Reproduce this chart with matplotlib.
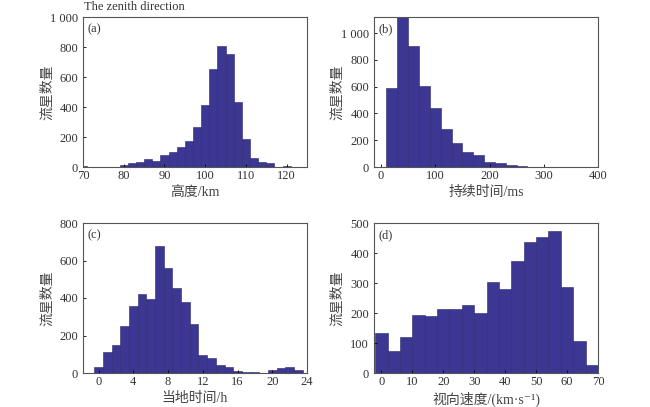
import matplotlib
matplotlib.use("Agg")
import matplotlib.pyplot as plt
from matplotlib.ticker import FuncFormatter
import numpy as np

plt.rcParams['font.family'] = ['Liberation Serif', 'Noto Sans CJK SC', 'DejaVu Serif']

# (a) meteor height, 2 km bins starting at 69 km
height_left = np.arange(69, 123, 2)
height_count = [10, 0, 0, 0, 0, 13, 27, 33, 53, 38, 82, 100, 133, 173, 264,
                415, 655, 804, 753, 433, 187, 62, 36, 24, 0, 8, 3]

# (b) duration, 20 ms bins starting at 10 ms
dur_left = np.arange(10, 310, 20)
dur_count = [592, 1200, 905, 605, 437, 285, 180, 115, 92, 35, 30, 17, 7, 3, 1]

# (c) local time, 1 h bins centred on the hour
hour_left = np.arange(-0.5, 23.5, 1)
hour_count = [32, 112, 152, 253, 355, 420, 395, 675, 559, 453, 380, 259,
              98, 80, 43, 32, 12, 4, 6, 2, 16, 28, 33, 17]

# (d) radial velocity, 4 km/s bins starting at -2
vel_left = np.arange(-2, 70, 4)
vel_count = [132, 74, 121, 195, 190, 215, 215, 227, 201, 302, 280, 372,
             436, 455, 472, 286, 106, 28]

BAR = '#3b3792'
EDGE = '#2a276e'
FS = 9


def thousands(v, pos):
    v = int(round(v))
    return f"{v // 1000} {v % 1000:03d}" if v >= 1000 else str(v)


def panel(ax, left, counts, width, xlim, xticks, ylim, yticks, xlabel, tag,
          ylab_x):
    ax.bar(left, counts, width=width, align='edge', color=BAR,
           edgecolor=EDGE, linewidth=0.4)
    ax.set_xlim(*xlim)
    ax.set_ylim(*ylim)
    ax.set_xticks(xticks)
    ax.set_yticks(yticks)
    ax.yaxis.set_major_formatter(FuncFormatter(thousands))
    ax.tick_params(direction='in', length=2.5, width=0.6, labelsize=FS,
                   labelcolor='#333333')
    ax.tick_params(axis='y', pad=3.5)
    ax.tick_params(axis='x', pad=2)
    for s in ax.spines.values():
        s.set_color('#555555')
        s.set_linewidth(0.8)
    ax.set_xlabel(xlabel, fontsize=FS + 1, color='#444444')
    ax.set_ylabel('流星数量', fontsize=FS + 1, color='#444444')
    ax.xaxis.set_label_coords(0.5, -0.128)
    ax.yaxis.set_label_coords(ylab_x, 0.5)
    ax.text(0.02, 0.955, tag, transform=ax.transAxes, fontsize=FS,
            va='top', ha='left', color='#333333')


fig = plt.figure(figsize=(6.5, 4.07), dpi=100)
W, H = 650.0, 407.0


def rect(l, r, t, b):
    return [l / W, 1 - b / H, (r - l) / W, (b - t) / H]


ax_a = fig.add_axes(rect(83, 307, 17, 167))
ax_b = fig.add_axes(rect(374, 598, 17, 167))
ax_c = fig.add_axes(rect(83, 307, 223, 373))
ax_d = fig.add_axes(rect(374, 598, 223, 373))

panel(ax_a, height_left, height_count, 2, (70, 125), range(70, 121, 10),
      (0, 1000), range(0, 1001, 200), '高度/km', '(a)', -0.128)
panel(ax_b, dur_left, dur_count, 20, (-13, 400), range(0, 401, 100),
      (0, 1120), range(0, 1001, 200), '持续时间/ms', '(b)', -0.132)
panel(ax_c, hour_left, hour_count, 1, (-1.8, 24), range(0, 25, 4),
      (0, 800), range(0, 801, 200), '当地时间/h', '(c)', -0.128)
panel(ax_d, vel_left, vel_count, 4, (-2.4, 70), range(0, 71, 10),
      (0, 500), range(0, 501, 100), '视向速度/(km·s⁻¹)', '(d)', -0.132)

fig.text(84 / W, 1 - 7 / H, 'The zenith direction', fontsize=FS,
         ha='left', va='center', color='#333333')

fig.savefig('out.png', dpi=100)
